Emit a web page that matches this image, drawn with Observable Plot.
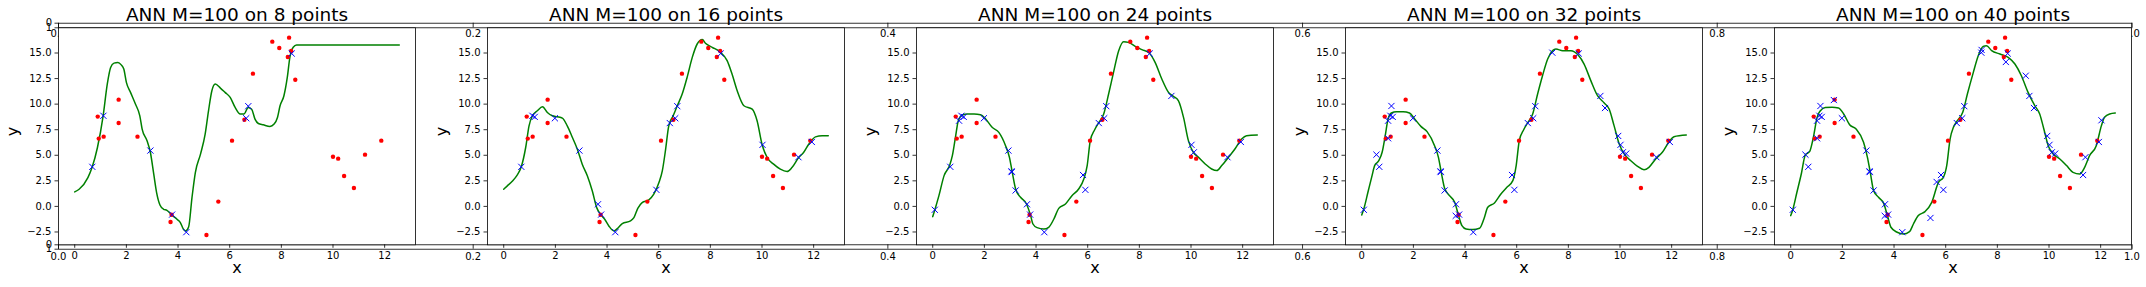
<!DOCTYPE html>
<html><head><meta charset="utf-8">
<script src="https://cdn.jsdelivr.net/npm/d3@7"></script>
<script src="https://cdn.jsdelivr.net/npm/@observablehq/plot@0.6"></script>
<style>
html,body{margin:0;padding:0;background:#fff;}
#fig{position:relative;width:2146px;height:287px;overflow:hidden;background:#fff;}
</style>
</head><body><div id="fig"></div>
<script>
// ---------- data ----------
const panelSizes = [8, 16, 24, 32, 40];
const titles = panelSizes.map(n => `ANN M=100 on ${n} points`);

const testX = [0.89,0.93,1.12,1.70,1.70,2.43,3.71,3.75,5.10,5.56,6.09,6.57,6.90,7.65,7.92,8.30,8.25,8.38,8.54,10.00,10.20,10.43,10.81,11.24,11.87];
const testY = [8.78,6.63,6.82,10.44,8.16,6.82,-1.52,-0.81,-2.79,0.47,6.43,8.48,12.98,16.11,15.49,16.50,14.61,15.20,12.39,4.86,4.67,2.97,1.80,5.06,6.43];

const trainX = [0.68,1.11,2.93,3.77,4.32,6.64,6.72,8.40,
                1.20,1.98,3.65,5.91,6.43,10.02,11.41,11.93,
                0.08,1.02,3.05,3.21,5.82,9.24,10.11,3.06,
                0.57,1.15,1.02,3.64,7.38,9.42,9.93,10.24,
                1.67,5.65,5.41,8.33,9.10,11.32,12.03,7.39];
const trainY = [3.87,8.86,5.46,-0.80,-2.52,8.62,9.80,14.95,
                8.75,8.62,0.21,1.62,8.15,6.02,4.81,6.30,
                -0.33,8.38,3.43,1.56,3.07,10.80,5.29,3.36,
                5.06,9.82,6.66,-0.92,15.03,9.62,6.89,5.16,
                10.40,2.39,-1.13,14.12,12.78,3.07,8.42,15.30];

const curve1 = [[0,1.42],[0.17,1.68],[0.51,2.82],[0.67,3.8],[0.88,5.76],[1.10,8.86],[1.26,11.96],[1.39,13.59],[1.52,14.01],[1.67,14.07],[1.80,13.84],[1.90,13.43],[2.00,12.13],[2.16,11.15],[2.35,10.01],[2.52,8.86],[2.61,7.56],[2.80,6.41],[2.93,5.27],[3.06,3.15],[3.17,1.35],[3.30,0.14],[3.44,-0.28],[3.57,-0.38],[3.74,-0.8],[3.96,-1.26],[4.09,-1.58],[4.21,-2.24],[4.29,-2.4],[4.41,-2.01],[4.54,0.86],[4.67,3.31],[4.87,5.11],[5.05,7.07],[5.18,9.35],[5.31,11.31],[5.44,11.96],[5.64,11.57],[5.82,11.15],[6.02,10.66],[6.21,9.68],[6.41,9.03],[6.55,9.03],[6.72,9.68],[6.85,9.51],[6.98,8.54],[7.11,8.11],[7.30,7.98],[7.56,7.82],[7.72,8.05],[7.85,8.7],[7.95,9.84],[8.10,10.82],[8.23,12.61],[8.33,14.57],[8.46,15.56],[8.59,15.78],[8.97,15.78],[12.566,15.78]];
const curve2 = [[0,1.68],[0.14,2.01],[0.34,2.49],[0.50,2.98],[0.68,3.87],[0.85,5.76],[0.98,7.88],[1.11,8.86],[1.30,9.35],[1.50,9.74],[1.69,9.18],[1.88,8.86],[2.08,8.76],[2.27,8.63],[2.46,7.88],[2.66,6.74],[2.85,5.60],[3.04,4.13],[3.24,2.98],[3.43,1.51],[3.60,-0.12],[3.75,-0.77],[3.91,-1.26],[4.07,-1.91],[4.27,-2.40],[4.40,-2.17],[4.59,-1.68],[4.91,-1.42],[5.04,-1.10],[5.19,-0.19],[5.36,0.37],[5.62,0.63],[5.81,1.19],[6.01,2.33],[6.14,3.47],[6.26,5.43],[6.39,7.88],[6.56,8.86],[6.72,9.84],[6.91,10.98],[7.10,12.61],[7.30,14.57],[7.49,15.88],[7.69,16.31],[7.81,15.95],[8.07,15.56],[8.39,15.07],[8.65,14.25],[8.84,12.94],[9.04,11.31],[9.30,9.84],[9.62,9.51],[9.81,8.37],[10.00,6.08],[10.20,4.78],[10.45,4.13],[10.71,3.64],[10.97,3.41],[11.16,3.80],[11.42,4.78],[11.61,5.27],[11.81,6.08],[12.07,6.80],[12.33,6.90],[12.566,6.90]];
const curve3 = [[0,-1.0],[0.08,-0.35],[0.24,1.05],[0.44,3.01],[0.66,4.05],[0.76,4.96],[0.89,6.92],[0.99,8.38],[1.15,8.94],[1.34,9.04],[1.60,9.04],[1.85,8.97],[2.05,8.55],[2.30,7.73],[2.56,7.24],[2.82,5.94],[2.97,4.80],[3.08,3.33],[3.21,1.70],[3.40,0.89],[3.63,0.24],[3.79,-0.90],[3.88,-1.72],[4.04,-2.08],[4.30,-2.21],[4.49,-2.04],[4.69,-1.23],[4.88,-0.19],[5.14,0.24],[5.39,1.05],[5.65,1.70],[5.85,2.68],[5.98,3.99],[6.10,6.43],[6.27,7.50],[6.42,8.16],[6.62,9.04],[6.81,10.99],[7.00,13.11],[7.20,15.23],[7.39,16.11],[7.58,16.04],[7.84,15.65],[8.10,15.33],[8.38,15.0],[8.61,14.09],[8.87,12.46],[9.13,11.15],[9.32,10.76],[9.51,10.34],[9.71,8.71],[9.90,6.43],[10.09,5.29],[10.29,4.80],[10.55,4.15],[10.80,3.66],[11.00,3.50],[11.19,3.99],[11.45,4.80],[11.70,5.61],[11.96,6.59],[12.15,6.92],[12.566,6.98]];
const curve4 = [[0,-0.84],[0.08,-0.25],[0.24,1.38],[0.40,3.01],[0.50,3.99],[0.66,4.47],[0.79,5.29],[0.91,6.92],[1.02,8.55],[1.15,9.13],[1.34,9.26],[1.60,9.26],[1.85,9.13],[2.05,8.55],[2.30,7.80],[2.53,7.31],[2.82,5.94],[2.97,4.80],[3.08,3.33],[3.21,1.77],[3.40,1.05],[3.60,0.40],[3.75,-0.90],[3.88,-1.88],[4.04,-2.21],[4.30,-2.27],[4.56,-2.14],[4.73,-1.23],[4.88,-0.09],[5.14,0.34],[5.39,1.22],[5.62,1.87],[5.85,2.52],[5.98,3.99],[6.10,6.43],[6.27,7.50],[6.42,8.16],[6.62,9.04],[6.81,10.99],[7.00,12.78],[7.20,14.41],[7.39,15.23],[7.52,15.39],[7.78,15.23],[8.10,15.23],[8.38,14.80],[8.61,13.92],[8.87,12.30],[9.13,10.83],[9.39,10.11],[9.58,9.52],[9.77,7.90],[9.97,6.10],[10.16,5.13],[10.42,4.47],[10.68,3.92],[10.93,3.59],[11.12,3.82],[11.38,4.64],[11.64,5.29],[11.90,6.33],[12.09,6.82],[12.566,6.98]];
const curve5 = [[0,-0.90],[0.08,-0.32],[0.24,1.38],[0.40,3.07],[0.57,5.06],[0.73,5.35],[0.89,6.92],[1.02,8.71],[1.15,9.36],[1.34,9.66],[1.60,9.69],[1.85,9.62],[2.05,9.04],[2.28,7.99],[2.53,7.57],[2.82,6.27],[2.97,4.80],[3.08,3.33],[3.21,1.54],[3.40,0.89],[3.60,0.30],[3.75,-0.97],[3.88,-2.04],[4.12,-2.53],[4.36,-2.70],[4.60,-2.47],[4.75,-1.72],[4.94,-0.90],[5.20,-0.51],[5.46,0.40],[5.72,2.36],[5.91,2.84],[6.04,3.99],[6.17,6.59],[6.30,7.73],[6.45,8.38],[6.66,9.20],[6.84,10.99],[7.07,13.11],[7.26,14.74],[7.45,15.65],[7.58,15.72],[7.78,15.23],[8.10,14.90],[8.42,14.58],[8.68,13.92],[8.93,12.78],[9.19,11.15],[9.45,9.85],[9.64,9.04],[9.80,7.57],[9.97,5.94],[10.16,5.13],[10.42,4.64],[10.68,3.99],[10.93,3.33],[11.19,3.17],[11.38,3.82],[11.57,4.96],[11.83,5.94],[12.03,7.90],[12.15,8.71],[12.35,9.04],[12.566,9.13]];
const curves = [curve1, curve2, curve3, curve4, curve5];

const xTicks = [0, 2, 4, 6, 8, 10, 12];
const xTickLabels = ["0", "2", "4", "6", "8", "10", "12"];
const yTicks = [-2.5, 0, 2.5, 5, 7.5, 10, 12.5, 15];
const yTickLabels = ["\u22122.5", "0.0", "2.5", "5.0", "7.5", "10.0", "12.5", "15.0"];
const bgTicks = [0, 0.2, 0.4, 0.6, 0.8, 1];
const bgTickLabels = ["0.0", "0.2", "0.4", "0.6", "0.8", "1.0"];
const stripTicks = [0, 1];
const stripTickLabels = ["0", "1"];

// ---------- layout ----------
const FONT = "DejaVu Sans";
const W = 2146, H = 287;
const figLeft = 58, figRight = 2131.4;
const step = 429.1, frameW = 357, frameTop = 27.3, frameBottom = 244.3;
const stripTopA = 22.7, stripBotB = 248.7;

const fig = document.getElementById("fig");
function place(svg, left, top) {
  svg.style.position = "absolute";
  svg.style.left = left + "px";
  svg.style.top = top + "px";
  fig.appendChild(svg);
}
const baseStyle = {background: "transparent", overflow: "visible", maxWidth: "none",
  fontFamily: FONT, fontSize: "10px", color: "black"};

// auto-scaled domains (5% margins like matplotlib)
const allX = [...testX, ...trainX, ...curves.flat().map(d => d[0])];
const allY = [...testY, ...trainY, ...curves.flat().map(d => d[1])];
function padded(ext) { const r = ext[1] - ext[0]; return [ext[0] - 0.05 * r, ext[1] + 0.05 * r]; }
const xDomain = padded(d3.extent(allX));
const yDomain = padded(d3.extent(allY));

// ---------- background strips ----------
function strip(top, bottom, labelPad) {
  return Plot.plot({
    width: W, height: H,
    marginLeft: figLeft, marginRight: W - figRight, marginTop: top, marginBottom: H - bottom,
    x: {domain: [0, 1]}, y: {domain: [0, 1], reverse: true},
    style: baseStyle,
    marks: [
      Plot.frame({stroke: "black", strokeWidth: 0.8}),
      Plot.ruleX(bgTicks, {stroke: "black", strokeWidth: 0.8}),
      Plot.axisX({ticks: bgTicks, tickSize: 0, tickPadding: labelPad, label: null,
        tickFormat: d => bgTickLabels[bgTicks.indexOf(d)], fill: "black"}),
      Plot.axisY({ticks: stripTicks, tickSize: 3.5, tickPadding: 3, label: null, strokeWidth: 0.8,
        tickFormat: d => stripTickLabels[stripTicks.indexOf(d)], fill: "black"})
    ]
  });
}
place(strip(stripTopA, frameTop, 2), 0, 0);
place(strip(frameBottom, stripBotB, 3.5), 0, 0);

// ---------- panels ----------
panelSizes.forEach((n, i) => {
  const L = figLeft + i * step;
  const test = testX.map((x, j) => ({x, y: testY[j]}));
  const train = d3.range(n).map(j => ({x: trainX[j], y: trainY[j]}));
  const svg = Plot.plot({
    width: 50 + frameW + 15, height: H,
    marginLeft: 50, marginRight: 15, marginTop: frameTop, marginBottom: H - frameBottom,
    x: {domain: xDomain}, y: {domain: yDomain},
    style: baseStyle,
    marks: [
      Plot.frame({fill: "white", stroke: null}),
      Plot.line(curves[i], {x: d => d[0], y: d => d[1], stroke: "#008000", strokeWidth: 1.5, curve: "monotone-x"}),
      Plot.dot(test, {x: "x", y: "y", r: 2.2, fill: "#ff0000", stroke: null}),
      Plot.dot(train, {x: "x", y: "y", symbol: "times", r: 2.9, stroke: "#0000ff", strokeWidth: 1}),
      Plot.frame({stroke: "black", strokeWidth: 0.8}),
      Plot.axisX({ticks: xTicks, tickSize: 3.5, tickPadding: 3.5, label: null, strokeWidth: 0.8,
        tickFormat: d => xTickLabels[xTicks.indexOf(d)], fill: "black"}),
      Plot.axisY({ticks: yTicks, tickSize: 3.5, tickPadding: 3.5, label: null, strokeWidth: 0.8,
        tickFormat: d => yTickLabels[yTicks.indexOf(d)], fill: "black"}),
      Plot.text([titles[i]], {text: d => d, frameAnchor: "top", lineAnchor: "bottom", dy: -6.8, fontSize: 18.5, fill: "black"}),
      Plot.text(["x"], {text: d => d, frameAnchor: "bottom", dy: 28, fontSize: 16, fill: "black"}),
      Plot.text(["y"], {text: d => d, frameAnchor: "left", dx: -46, rotate: -90, fontSize: 16, fill: "black"})
    ]
  });
  place(svg, L - 50, 0);
});
</script></body></html>
